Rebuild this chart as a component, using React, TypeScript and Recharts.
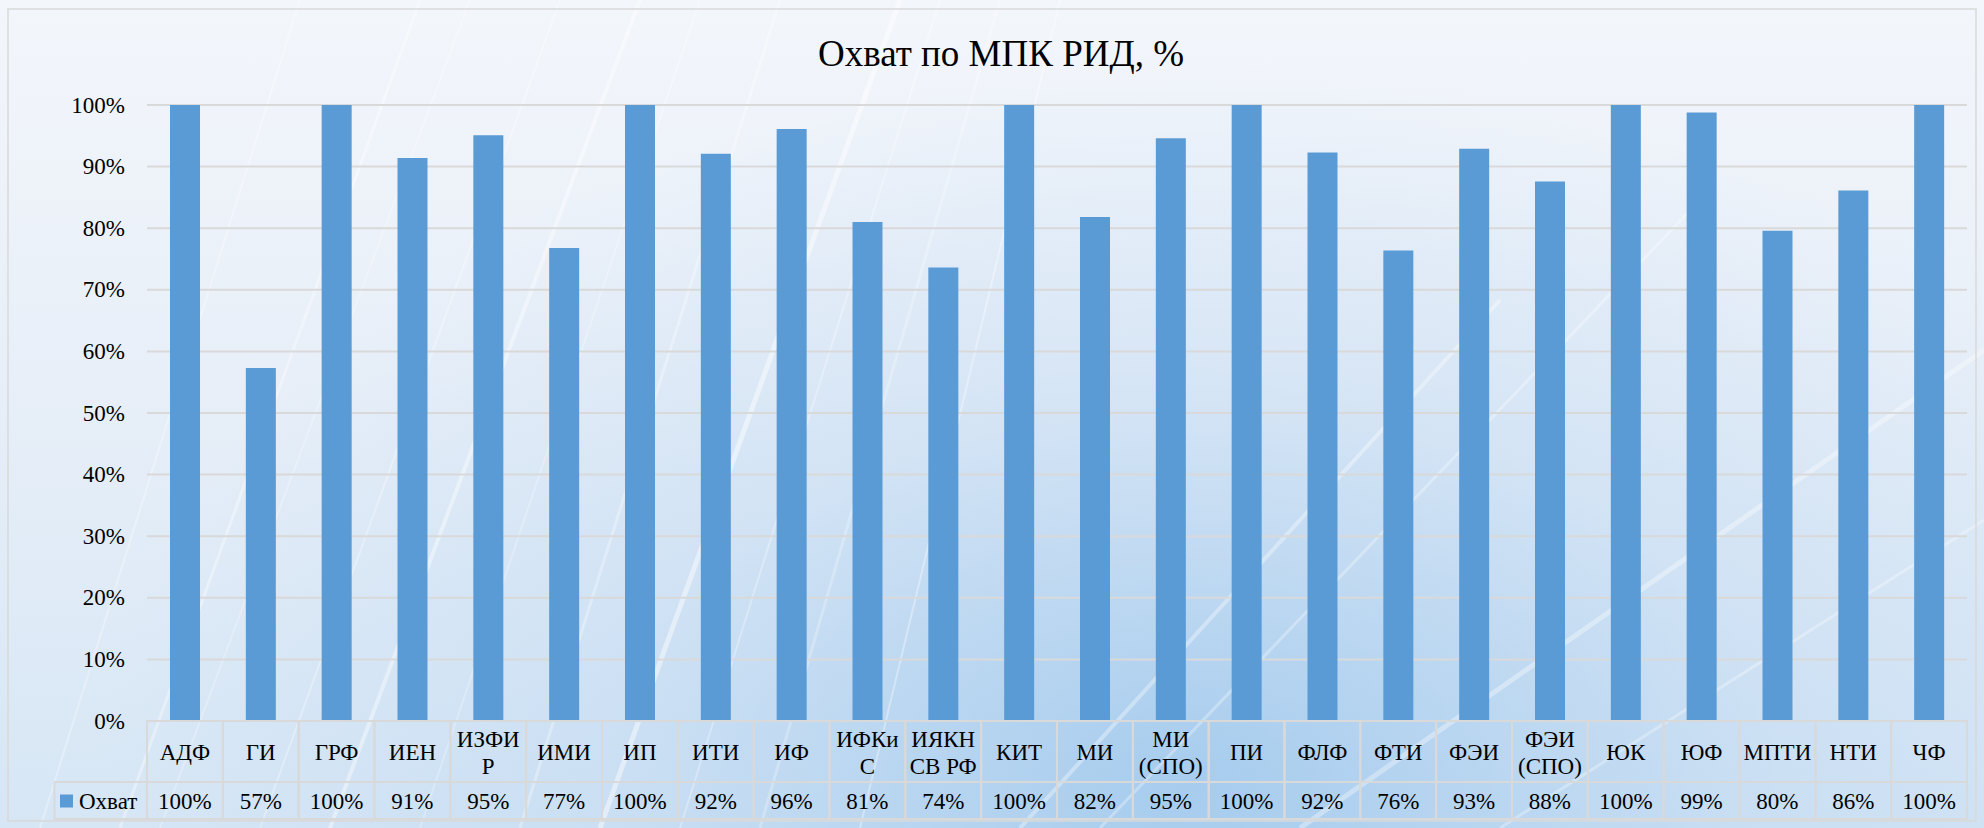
import React from 'react';
import { BarChart, Bar, XAxis, YAxis, CartesianGrid } from 'recharts';

const chartTitle = 'Охват по МПК РИД, %';
const seriesName = 'Охват';
const categories = ['АДФ', 'ГИ', 'ГРФ', 'ИЕН', 'ИЗФИР', 'ИМИ', 'ИП', 'ИТИ', 'ИФ', 'ИФКиС', 'ИЯКН СВ РФ', 'КИТ', 'МИ', 'МИ (СПО)', 'ПИ', 'ФЛФ', 'ФТИ', 'ФЭИ', 'ФЭИ (СПО)', 'ЮК', 'ЮФ', 'МПТИ', 'НТИ', 'ЧФ'];
const coverage = [100, 57.3, 100, 91.4, 95.1, 76.8, 100, 92.1, 96.1, 81.0, 73.6, 100, 81.8, 94.6, 100, 92.3, 76.4, 92.9, 87.6, 100, 98.8, 79.6, 86.1, 100];
const yTicks = [0, 10, 20, 30, 40, 50, 60, 70, 80, 90, 100];

const data = categories.map((c, i) => ({ name: c, value: coverage[i] }));

const W = 1984;
const H = 828;
const PLOT_L = 147;
const PLOT_R = 1967;
const PLOT_T = 105;
const PLOT_B = 721;
const Y_AXIS_W = 60;
const ROW1 = 61;
const ROW2 = 37;
const X_AXIS_H = ROW1 + ROW2;
const BW = (PLOT_R - PLOT_L) / categories.length;
const FONT = "'Liberation Serif', 'DejaVu Serif', 'Times New Roman', serif";
const FS = 23;
const BORDER = '#d9d9d9';
const BAR = '#5b9bd5';
const TXT = { fontFamily: FONT };

function wrapLabel(s: string): string[] {
  if (s.length <= 4) return [s];
  const sp = s.indexOf(' ');
  if (sp > 0) return [s.slice(0, sp), s.slice(sp + 1)];
  return [s.slice(0, 4), s.slice(4)];
}

const TableTick = (props: any) => {
  const { x, y, payload } = props;
  const i = payload.index;
  const lines = wrapLabel(String(payload.value));
  const left = x - BW / 2;
  const mid1 = y + ROW1 / 2 + 1;
  const lh = 27;
  return (
    <g>
      <rect x={left} y={y} width={BW} height={ROW1} fill="none" stroke={BORDER} strokeWidth={2} />
      <rect x={left} y={y + ROW1} width={BW} height={ROW2} fill="none" stroke={BORDER} strokeWidth={2} />
      <text textAnchor="middle" style={TXT} fontSize={FS} fill="#000">
        {lines.map((l, k) => (
          <tspan key={k} x={x} y={mid1 + (k - (lines.length - 1) / 2) * lh} dominantBaseline="central">
            {l}
          </tspan>
        ))}
      </text>
      <text x={x} y={y + ROW1 + ROW2 / 2 + 1} textAnchor="middle" dominantBaseline="central" style={TXT} fontSize={FS} fill="#000">
        {Math.round(coverage[i])}%
      </text>
    </g>
  );
};

const YTick = (props: any) => {
  const { x, y, payload } = props;
  return (
    <text x={x} y={y} textAnchor="end" dominantBaseline="central" style={TXT} fontSize={FS} fill="#000">
      {payload.value}%
    </text>
  );
};

const streaks = [
  [120, 828, 420, 0, 0.35, 3], [160, 828, 470, 0, 0.25, 2], [260, 828, 560, 0, 0.3, 2],
  [330, 828, 640, 0, 0.4, 4], [420, 828, 700, 0, 0.25, 2], [520, 828, 780, 0, 0.3, 3],
  [600, 828, 900, 0, 0.45, 5], [680, 828, 940, 0, 0.3, 2], [760, 828, 1000, 0, 0.25, 3],
  [860, 828, 1060, 0, 0.35, 2], [40, 828, 300, 0, 0.3, 2], [1020, 828, 1500, 300, 0.35, 4],
  [1100, 828, 1700, 200, 0.3, 3], [1300, 828, 1984, 350, 0.35, 5], [1500, 828, 1984, 520, 0.3, 3],
];

export default function App() {
  return (
    <div
      style={{
        position: 'absolute',
        left: 0,
        top: 0,
        width: W,
        height: H,
        overflow: 'hidden',
        fontFamily: FONT,
        background:
          'radial-gradient(ellipse at 60% 95%, rgba(150,195,235,0.75) 0%, rgba(180,210,240,0.35) 35%, rgba(220,232,246,0) 65%), linear-gradient(to bottom, #f3f6fb 0%, #e8eff8 45%, #d6e6f5 100%)',
      }}
    >
      <svg width={W} height={H} style={{ position: 'absolute', left: 0, top: 0 }}>
        {streaks.map((s, k) => (
          <line key={k} x1={s[0]} y1={s[1]} x2={s[2]} y2={s[3]} stroke="#ffffff" strokeOpacity={s[4]} strokeWidth={s[5]} />
        ))}
      </svg>
      <div style={{ position: 'absolute', left: 0, top: 0 }}>
        <BarChart
          width={W}
          height={H}
          data={data}
          style={TXT}
          margin={{ top: PLOT_T, right: W - PLOT_R, bottom: H - PLOT_B - X_AXIS_H, left: PLOT_L - Y_AXIS_W }}
        >
          <CartesianGrid horizontal vertical={false} stroke={BORDER} strokeWidth={2} />
          <XAxis
            dataKey="name"
            height={X_AXIS_H}
            interval={0}
            axisLine={false}
            tickLine={false}
            tickSize={0}
            tickMargin={0}
            tick={<TableTick />}
          />
          <YAxis
            width={Y_AXIS_W}
            domain={[0, 100]}
            ticks={yTicks}
            axisLine={false}
            tickLine={false}
            tickSize={0}
            tickMargin={22}
            tick={<YTick />}
          />
          <Bar dataKey="value" fill={BAR} barSize={30} isAnimationActive={false} />
        </BarChart>
      </div>
      <svg width={W} height={H} style={{ position: 'absolute', left: 0, top: 0, pointerEvents: 'none' }}>
        <rect x={8} y={9} width={1968} height={812} fill="none" stroke={BORDER} strokeWidth={1.5} />
        <text x={1001} y={53} textAnchor="middle" dominantBaseline="central" style={TXT} fontSize={37} fill="#000">
          {chartTitle}
        </text>
        <rect x={54.5} y={PLOT_B + ROW1} width={PLOT_L - 54.5} height={ROW2} fill="none" stroke={BORDER} strokeWidth={2} />
        <rect x={60} y={PLOT_B + ROW1 + ROW2 / 2 - 6} width={13} height={13} fill={BAR} />
        <text x={79} y={PLOT_B + ROW1 + ROW2 / 2 + 1} dominantBaseline="central" style={TXT} fontSize={FS} fill="#000">
          {seriesName}
        </text>
      </svg>
    </div>
  );
}
